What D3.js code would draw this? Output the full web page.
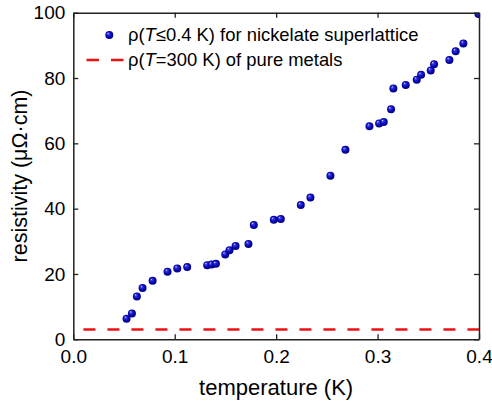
<!DOCTYPE html>
<html>
<head>
<meta charset="utf-8">
<script src="https://cdn.jsdelivr.net/npm/d3@7"></script>
<style>
  body { margin: 0; background: #fff; }
  svg { font-family: "Liberation Sans", Arial, sans-serif; }
</style>
</head>
<body>
<div id="chart"></div>
<script>
// Data
var temps = [0.0525, 0.0578, 0.0627, 0.0683, 0.0782, 0.0929, 0.1025, 0.1123, 0.132, 0.1363,
             0.1406, 0.1498, 0.154, 0.160, 0.1727, 0.178, 0.1977, 0.2046, 0.2243, 0.2338,
             0.2535, 0.2683, 0.292, 0.3015, 0.3061, 0.3133, 0.3156, 0.3278, 0.3386, 0.3429,
             0.3524, 0.3557, 0.3708, 0.377, 0.3846, 0.3995];
var rhos = [6.3, 7.9, 13.1, 15.7, 17.9, 20.7, 21.7, 22.1, 22.7, 22.9,
            23.1, 26.0, 27.3, 28.6, 29.2, 35.0, 36.6, 36.8, 41.1, 43.4,
            50.1, 58.0, 65.2, 66.1, 66.5, 70.4, 76.8, 77.9, 79.5, 81.0,
            82.3, 84.2, 85.5, 88.2, 90.6, 99.6];
var metalT = [0.01, 0.4];
var metalRho = [3, 3];
var xTicks = [0, 0.1, 0.2, 0.3, 0.4];
var yTicks = [0, 20, 40, 60, 80, 100];
var legendLabels = ["for nickelate superlattice", "of pure metals"];

var width = 492, height = 407;
var margin = {top: 12.7, right: 13, bottom: 67.7, left: 73.3};

var svg = d3.select("#chart").append("svg")
  .attr("width", width)
  .attr("height", height);

var defs = svg.append("defs");
var grad = defs.append("radialGradient")
  .attr("id", "ball")
  .attr("cx", "50%").attr("cy", "50%").attr("r", "55%")
  .attr("fx", "32%").attr("fy", "28%");
grad.append("stop").attr("offset", "0%").attr("stop-color", "#ececff");
grad.append("stop").attr("offset", "22%").attr("stop-color", "#3c3ce6");
grad.append("stop").attr("offset", "60%").attr("stop-color", "#0808b8");
grad.append("stop").attr("offset", "100%").attr("stop-color", "#000070");

defs.append("clipPath").attr("id", "plotclip")
  .append("rect")
    .attr("x", margin.left).attr("y", margin.top)
    .attr("width", width - margin.left - margin.right)
    .attr("height", height - margin.top - margin.bottom);

var x = d3.scaleLinear()
  .domain([0, 0.4])
  .range([margin.left, width - margin.right]);
var y = d3.scaleLinear()
  .domain([0, 100])
  .range([height - margin.bottom, margin.top]);

var plot = svg.append("g").attr("clip-path", "url(#plotclip)");

// pure metals dashed line
var line = d3.line()
  .x(function(d, i) { return x(metalT[i]); })
  .y(function(d, i) { return y(metalRho[i]); });
plot.append("path")
  .datum(metalT)
  .attr("d", line)
  .attr("fill", "none")
  .attr("stroke", "#ee1111")
  .attr("stroke-width", 2.6)
  .attr("stroke-dasharray", "12,12");

// nickelate points
plot.selectAll("circle.pt")
  .data(temps)
  .enter().append("circle")
    .attr("class", "pt")
    .attr("cx", function(d) { return x(d); })
    .attr("cy", function(d, i) { return y(rhos[i]); })
    .attr("r", 4)
    .attr("fill", "url(#ball)");

// Axes (ticks inward on all sides)
function styleAxis(g) {
  g.selectAll("path.domain").attr("stroke", "#222").attr("stroke-width", 1.5);
  g.selectAll(".tick line").attr("stroke", "#222").attr("stroke-width", 1.3);
  g.selectAll(".tick text").attr("fill", "#000").style("font-size", "19px")
    .style("font-family", "'Liberation Sans', Arial, sans-serif");
}

svg.append("g")
  .attr("transform", "translate(0," + y(0) + ")")
  .call(d3.axisBottom(x).tickValues(xTicks).tickFormat(d3.format(".1f"))
    .tickSizeInner(-5).tickSizeOuter(0).tickPadding(10))
  .call(styleAxis);

svg.append("g")
  .attr("transform", "translate(0," + y(100) + ")")
  .call(d3.axisTop(x).tickValues(xTicks).tickFormat("")
    .tickSizeInner(-5).tickSizeOuter(0))
  .call(styleAxis);

svg.append("g")
  .attr("transform", "translate(" + x(0) + ",0)")
  .call(d3.axisLeft(y).tickValues(yTicks)
    .tickSizeInner(-5).tickSizeOuter(0).tickPadding(8))
  .call(styleAxis);

svg.append("g")
  .attr("transform", "translate(" + x(0.4) + ",0)")
  .call(d3.axisRight(y).tickValues(yTicks).tickFormat("")
    .tickSizeInner(-5).tickSizeOuter(0))
  .call(styleAxis);

// Axis titles
svg.append("text")
  .attr("x", (x(0) + x(0.4)) / 2)
  .attr("y", 395)
  .attr("text-anchor", "middle")
  .style("font-size", "22px")
  .text("temperature (K)");

svg.append("text")
  .attr("transform", "translate(27," + ((y(0) + y(100)) / 2) + ") rotate(-90)")
  .attr("text-anchor", "middle")
  .style("font-size", "21.5px")
  .text("resistivity (\u03bc\u03a9\u00b7cm)");

// Legend
var legend = svg.append("g");
legend.append("circle")
  .attr("cx", 109.3).attr("cy", 35)
  .attr("r", 4)
  .attr("fill", "url(#ball)");
var t1 = legend.append("text").attr("x", 128).attr("y", 41).style("font-size", "18.4px");
t1.append("tspan").text("\u03c1(");
t1.append("tspan").style("font-style", "italic").text("T");
t1.append("tspan").text("\u22640.4 K) " + legendLabels[0]);

legend.append("line")
  .attr("x1", 86.5).attr("x2", 123.5)
  .attr("y1", 60).attr("y2", 60)
  .attr("stroke", "#ee1111")
  .attr("stroke-width", 2.6)
  .attr("stroke-dasharray", "12.5,12");
var t2 = legend.append("text").attr("x", 128).attr("y", 66).style("font-size", "18.4px");
t2.append("tspan").text("\u03c1(");
t2.append("tspan").style("font-style", "italic").text("T");
t2.append("tspan").text("=300 K) " + legendLabels[1]);
</script>
</body>
</html>
